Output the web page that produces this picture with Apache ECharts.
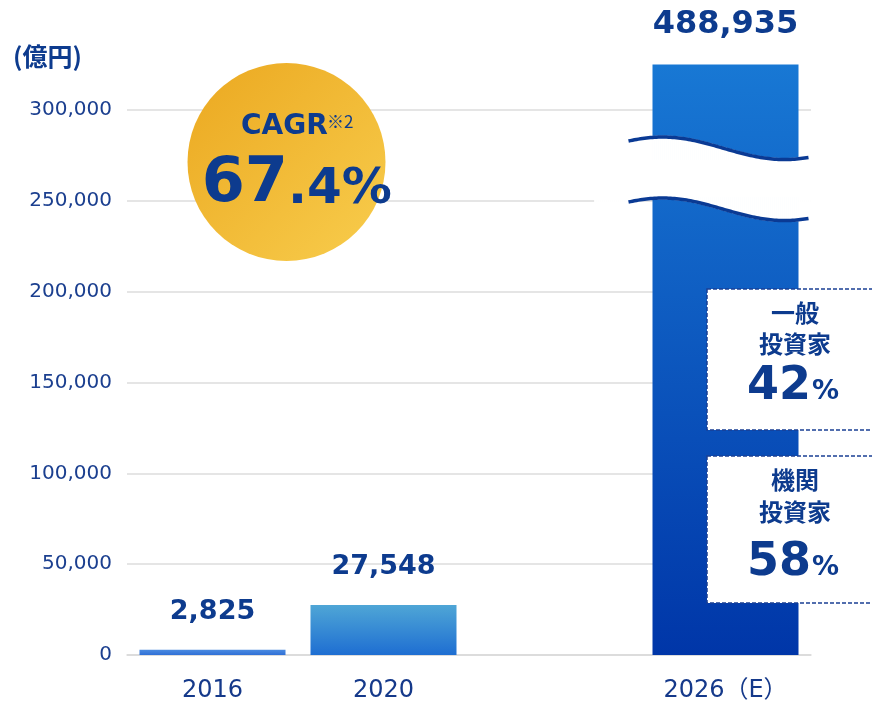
<!DOCTYPE html>
<html><head><meta charset="utf-8">
<script src="https://cdn.jsdelivr.net/npm/echarts@6/dist/echarts.min.js"></script>
<style>html,body{margin:0;padding:0;background:#fff}#c{width:872px;height:706px}</style>
</head><body><div id="c"></div>
<script>
// ---- data ----
const categories = ['2016', '2020', '', '2026（E）'];
const values = [2825, 27548, null, 488935];
const yTickStep = 50000;
const yMaxShown = 325000;
const breakNear = 250000;
const unitLabel = '(億円)';
const cagrTitle = 'CAGR';
const cagrNote = '※2';
const cagrInt = '67';
const cagrDec = '.4%';
const shareNames = ['一般\n投資家', '機関\n投資家'];
const shareValues = [42, 58];

const NAVY = '#0d3b8e';
const LATIN = '"DejaVu Sans", "Noto Sans CJK JP"';
const CJK = '"Noto Sans CJK JP"';

const barStops = [
  [[0, '#4a8ae0'], [1, '#2f6fd6']],
  [[0, '#4fa6d6'], [1, '#1e6ed2']],
  null,
  [[0, '#1878d4'], [0.1617, '#146dcd'], [0.1618, '#ffffff'], [0.2244, '#ffffff'], [0.2245, '#1369ca'], [1, '#0036a8']]
];

const chart = echarts.init(document.getElementById('c'));

const seriesData = values.map((v, i) => {
  if (v == null) return '-';
  return {
    value: v,
    itemStyle: {
      color: new echarts.graphic.LinearGradient(0, 0, 0, 1,
        barStops[i].map(s => ({ offset: s[0], color: s[1] })))
    },
    label: { fontSize: i === 3 ? 32 : 27 }
  };
});

// break mark drawn over the clipped 2026 bar
function renderBreak(params, api) {
  const p = api.coord([api.value(0), api.value(1)]);
  const cx = p[0];
  const yT = p[1] - 52.5;
  const gapH = 61;
  const waveY = x => yT - 11.25 * Math.cos(Math.PI * (x - (cx - 63)) / 122);
  const topPts = [], botPts = [];
  for (let x = cx - 97; x <= cx + 84.01; x += 2) {
    topPts.push([x, waveY(x)]); botPts.push([x, waveY(x) + gapH]);
  }
  const children = [];
  for (let x = cx - 131; x <= cx + 86.01; x += 2) {
    const yy = waveY(x + 1);
    children.push({ type: 'rect', shape: { x: x, y: yy - 1, width: 2, height: gapH + 2 },
      style: { fill: '#ffffff', stroke: '#ffffff', lineWidth: 0.8 } });
  }
  children.push(
    { type: 'polyline', shape: { points: topPts }, style: { stroke: '#0a3a94', lineWidth: 3.5, fill: 'none' } },
    { type: 'polyline', shape: { points: botPts }, style: { stroke: '#0a3a94', lineWidth: 3.5, fill: 'none' } }
  );
  return { type: 'group', children: children };
}

chart.setOption({
  animation: false,
  title: {
    text: unitLabel, left: 8, top: 39,
    textStyle: { fontFamily: CJK, fontWeight: 'bold', fontSize: 25, color: NAVY }
  },
  grid: { left: 127, right: 61, top: 64.5, bottom: 51, containLabel: false },
  xAxis: {
    type: 'category',
    data: categories,
    axisLine: { lineStyle: { color: '#d9d9d9', width: 1.5 } },
    axisTick: { show: false },
    axisLabel: { fontFamily: LATIN, fontSize: 24, color: '#15398a', margin: 24 }
  },
  yAxis: {
    type: 'value',
    min: 0, max: yMaxShown, interval: yTickStep,
    axisLine: { show: false },
    axisTick: { show: false },
    splitLine: { showMaxLine: false, lineStyle: { color: '#dcdcdc', width: 1.5 } },
    axisLabel: {
      showMaxLabel: false,
      fontFamily: LATIN, fontSize: 20, color: '#1b3f8f', margin: 15,
      formatter: v => (v % yTickStep === 0 ? v.toLocaleString('en-US') : '')
    }
  },
  series: [{
    type: 'bar',
    data: seriesData,
    barWidth: 146,
    clip: true,
    z: 2,
    label: {
      show: true, position: 'top', distance: 24,
      fontFamily: LATIN, fontWeight: 'bold', color: NAVY,
      formatter: p => Number(p.value).toLocaleString('en-US')
    }
  }, {
    type: 'custom',
    z: 5,
    clip: false,
    renderItem: renderBreak,
    data: [[3, breakNear]]
  }]
});

// ---- annotations (CAGR bubble, share boxes) ----
const graphics = [
  {
    type: 'circle', shape: { cx: 286.5, cy: 162, r: 99 }, z: 50,
    style: {
      fill: new echarts.graphic.LinearGradient(0, 0, 1, 1, [
        { offset: 0, color: '#eba820' }, { offset: 1, color: '#f8cd4d' }
      ])
    }
  },
  { type: 'text', x: 241, y: 127, z: 52, style: { text: cagrTitle, font: 'bold 28px ' + LATIN, fill: NAVY, align: 'left', verticalAlign: 'middle' } },
  { type: 'text', x: 327, y: 122, z: 52, style: { text: cagrNote, font: '17px ' + CJK, fill: NAVY, align: 'left', verticalAlign: 'middle' } },
  { type: 'text', x: 288, y: 185, z: 52, style: { text: cagrInt, font: 'bold 62px ' + LATIN, fill: NAVY, align: 'right', verticalAlign: 'middle' } },
  { type: 'text', x: 288, y: 190, z: 52, style: { text: cagrDec, font: 'bold 50px ' + LATIN, fill: NAVY, align: 'left', verticalAlign: 'middle' } }
];

const boxes = [[289, 430], [456, 603]];
const boxTextY = [[312.5, 344, 387], [480, 512, 563]];
boxes.forEach((b, i) => {
  graphics.push({
    type: 'rect', shape: { x: 707, y: b[0], width: 200, height: b[1] - b[0] }, z: 50,
    style: { fill: '#ffffff', stroke: '#1a3f94', lineWidth: 1.5, lineDash: [4, 2] }
  });
  const lines = shareNames[i].split('\n');
  lines.forEach((t, j) => {
    graphics.push({ type: 'text', x: 795, y: boxTextY[i][j], z: 52,
      style: { text: t, font: 'bold 24px ' + CJK, fill: NAVY, align: 'center', verticalAlign: 'middle' } });
  });
  graphics.push({ type: 'text', x: 811, y: boxTextY[i][2], z: 52,
    style: { text: String(shareValues[i]), font: 'bold 46px ' + LATIN, fill: NAVY, align: 'right', verticalAlign: 'middle' } });
  graphics.push({ type: 'text', x: 812, y: boxTextY[i][2] + 5, z: 52,
    style: { text: '%', font: 'bold 27px ' + LATIN, fill: NAVY, align: 'left', verticalAlign: 'middle' } });
});

chart.setOption({ graphic: graphics });
</script></body></html>
